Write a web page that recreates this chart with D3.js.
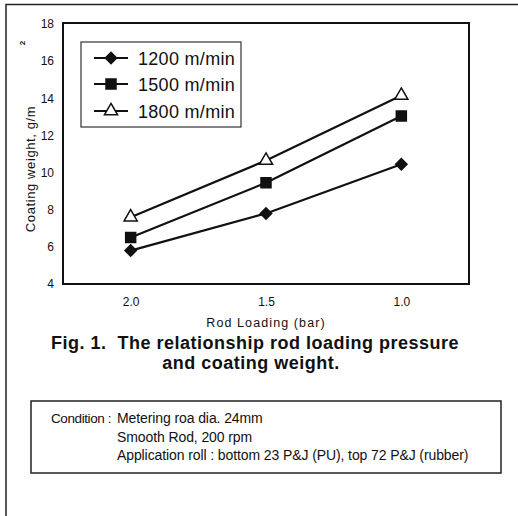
<!DOCTYPE html>
<html>
<head>
<meta charset="utf-8">
<script src="https://cdn.jsdelivr.net/npm/d3@7"></script>
<style>
  body { margin: 0; background: #fff; }
  text { font-family: "Liberation Sans", Arial, sans-serif; fill: #111; }
</style>
</head>
<body>
<div></div>
<script>
const loadings = ["2.0", "1.5", "1.0"];
const seriesNames = ["1200 m/min", "1500 m/min", "1800 m/min"];
const w1200 = [5.8, 7.8, 10.45];
const w1500 = [6.5, 9.45, 13.05];
const w1800 = [7.6, 10.65, 14.15];
const yTicks = [4, 6, 8, 10, 12, 14, 16, 18];
const conditionLines = [
  "Metering roa dia. 24mm",
  "Smooth Rod, 200 rpm",
  "Application roll : bottom 23 P&J (PU), top 72 P&J (rubber)"
];

const series = [
  {name: seriesNames[0], values: w1200, symbol: d3.symbolSquare, rot: 45, fill: "#111", size: 64},
  {name: seriesNames[1], values: w1500, symbol: d3.symbolSquare, rot: 0, fill: "#111", size: 100},
  {name: seriesNames[2], values: w1800, symbol: d3.symbolTriangle, rot: 0, fill: "#fff", size: 75}
];

const width = 518, height = 516;
const margin = {top: 23, right: 49, bottom: 232, left: 63};

const svg = d3.select("div").append("svg")
  .attr("width", width)
  .attr("height", height);

// outer frame (only top and left edge visible)
svg.append("path")
  .attr("d", "M6,516 V4.5 H518")
  .attr("fill", "none").attr("stroke", "#222").attr("stroke-width", 1.5);

const x = d3.scalePoint()
  .domain(loadings)
  .range([margin.left, width - margin.right])
  .padding(0.5);

const y = d3.scaleLinear()
  .domain([4, 18])
  .range([height - margin.bottom, margin.top + 1]);

const plotBottom = y(4);

svg.append("rect")
  .attr("x", margin.left).attr("y", margin.top)
  .attr("width", width - margin.right - margin.left)
  .attr("height", plotBottom - margin.top)
  .attr("fill", "none").attr("stroke", "#111").attr("stroke-width", 2);

const yAxis = svg.append("g")
  .attr("transform", `translate(${margin.left},0)`)
  .call(d3.axisLeft(y).tickValues(yTicks).tickSize(0).tickPadding(9));
yAxis.select(".domain").remove();
yAxis.selectAll("text").attr("font-size", 12).style("font-family", "'Liberation Sans', Arial, sans-serif");

const xAxis = svg.append("g")
  .attr("transform", `translate(0,${plotBottom})`)
  .call(d3.axisBottom(x).tickSize(0).tickPadding(13));
xAxis.select(".domain").remove();
xAxis.selectAll("text").attr("font-size", 12).style("font-family", "'Liberation Sans', Arial, sans-serif");

svg.append("text")
  .attr("x", x("1.5")).attr("y", 327)
  .attr("text-anchor", "middle")
  .attr("font-size", 12.5).attr("letter-spacing", 1.1)
  .text("Rod Loading (bar)");

svg.append("text")
  .attr("transform", `translate(35,169) rotate(-90)`)
  .attr("text-anchor", "middle")
  .attr("font-size", 13).attr("letter-spacing", 0.6)
  .text("Coating weight, g/m");
svg.append("text")
  .attr("transform", "translate(25,43) rotate(-90)")
  .attr("text-anchor", "middle")
  .attr("font-size", 8).attr("font-weight", "bold")
  .text("2");

const line = d3.line()
  .x((d, i) => x(loadings[i]))
  .y(d => y(d));

series.forEach(s => {
  svg.append("path")
    .datum(s.values)
    .attr("d", line)
    .attr("fill", "none").attr("stroke", "#111").attr("stroke-width", 2.2);
  svg.selectAll(null)
    .data(s.values)
    .enter().append("path")
    .attr("transform", (d, i) => `translate(${x(loadings[i])},${y(d)}) rotate(${s.rot})`)
    .attr("d", d3.symbol().type(s.symbol).size(s.size))
    .attr("fill", s.fill).attr("stroke", "#111").attr("stroke-width", 1.5);
});

// legend
const legend = svg.append("g");
legend.append("rect")
  .attr("x", 81).attr("y", 42).attr("width", 160).attr("height", 85)
  .attr("fill", "#fff").attr("stroke", "#333").attr("stroke-width", 1.2);
const ly = [58, 84, 111];
series.forEach((s, i) => {
  legend.append("line")
    .attr("x1", 94).attr("x2", 128).attr("y1", ly[i]).attr("y2", ly[i])
    .attr("stroke", "#111").attr("stroke-width", 2);
  legend.append("path")
    .attr("transform", `translate(111,${ly[i]}) rotate(${s.rot})`)
    .attr("d", d3.symbol().type(s.symbol).size(s.size))
    .attr("fill", s.fill).attr("stroke", "#111").attr("stroke-width", 1.5);
  legend.append("text")
    .attr("x", 138).attr("y", ly[i] + 6.5)
    .attr("font-size", 18).attr("letter-spacing", 0.3)
    .text(s.name);
});

// caption
svg.append("text")
  .attr("x", 255).attr("y", 349)
  .attr("text-anchor", "middle")
  .attr("font-size", 18).attr("font-weight", "bold").attr("letter-spacing", 0.5)
  .attr("xml:space", "preserve")
  .text("Fig. 1.  The relationship rod loading pressure");
svg.append("text")
  .attr("x", 251).attr("y", 369)
  .attr("text-anchor", "middle")
  .attr("font-size", 18).attr("font-weight", "bold").attr("letter-spacing", 0.5)
  .text("and coating weight.");

// condition box
svg.append("rect")
  .attr("x", 31).attr("y", 401).attr("width", 470).attr("height", 72)
  .attr("fill", "none").attr("stroke", "#222").attr("stroke-width", 1.5);
svg.append("text")
  .attr("x", 51).attr("y", 423)
  .attr("font-size", 13.5).attr("letter-spacing", -0.4)
  .text("Condition :");
conditionLines.forEach((t, i) => {
  svg.append("text")
    .attr("x", 117).attr("y", 423 + i * 18.5)
    .attr("font-size", 14).attr("letter-spacing", -0.1)
    .text(t);
});
</script>
</body>
</html>
